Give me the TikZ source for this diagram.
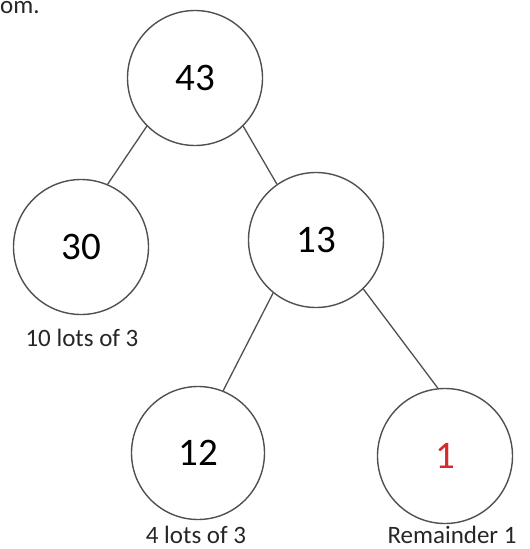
\documentclass[tikz,border=0pt]{standalone}
\usepackage{fontspec}
\setmainfont{Carlito}
\definecolor{ringgray}{HTML}{505050}
\definecolor{remred}{HTML}{D42A2A}
\begin{document}
\begin{tikzpicture}[x=1pt,y=-1pt,
  numnode/.style={circle,draw=ringgray,line width=1.4pt,minimum size=135pt,inner sep=0pt,font=\fontsize{39}{41}\selectfont},
  lbl/.style={font=\fontsize{25}{28}\selectfont,text=black!85},
  edge/.style={draw=ringgray,line width=1.3pt}]
\useasboundingbox (0,0) rectangle (530,549);
\clip (0,0) rectangle (530,549);
\node[lbl,anchor=base west,inner sep=0pt] (frag) at (0,13) {om.};
\node[numnode] (n43) at (195,78) {43};
\node[numnode] (n30) at (81,247) {30};
\node[numnode] (n13) at (316,240) {13};
\node[numnode,minimum size=133pt] (n12) at (198,453) {12};
\node[numnode,text=remred] (n1) at (445,456) {1};
\node[lbl] (l30) at (82,338) {10 lots of 3};
\node[lbl] (l12) at (196,535) {4 lots of 3};
\node[lbl] (l1) at (452,535) {Remainder 1};
\draw[edge] (n43.225) -- (n30.67);
\draw[edge] (n43.-45) -- (n13.125);
\draw[edge] (n13.231) -- (n12.68);
\draw[edge] (n13.-46) -- (n1.96);
\end{tikzpicture}
\end{document}
